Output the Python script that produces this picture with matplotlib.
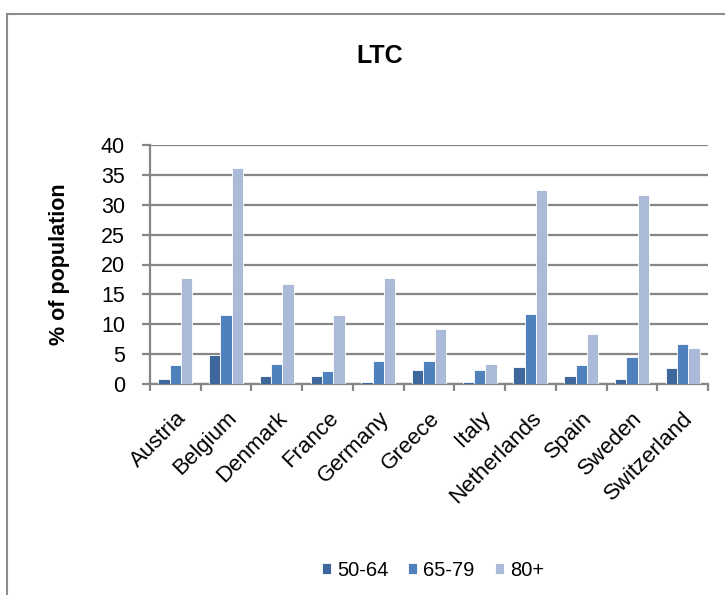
import numpy as np
import matplotlib
matplotlib.use("Agg")
import matplotlib.pyplot as plt
from matplotlib.lines import Line2D
from matplotlib.transforms import ScaledTranslation

plt.rcParams['font.family'] = ['Liberation Sans', 'DejaVu Sans']

countries = ["Austria", "Belgium", "Denmark", "France", "Germany", "Greece",
             "Italy", "Netherlands", "Spain", "Sweden", "Switzerland"]
age_50_64 = [0.8, 4.9, 1.3, 1.3, 0.3, 2.3, 0.3, 2.8, 1.3, 0.8, 2.6]
age_65_79 = [3.1, 11.5, 3.3, 2.1, 3.9, 3.9, 2.3, 11.7, 3.1, 4.6, 6.7]
age_80p = [17.8, 36.2, 16.8, 11.5, 17.8, 9.2, 3.4, 32.5, 8.4, 31.7, 6.1]
series_labels = ["50-64", "65-79", "80+"]
y_ticks = [0, 5, 10, 15, 20, 25, 30, 35, 40]

colors = ["#3E689B", "#4F81BD", "#AABAD8"]
grid_col = "#868686"

fig = plt.figure(figsize=(7.25, 5.95), dpi=100)
ax = fig.add_axes([150 / 725, 1 - 384 / 595, 558 / 725, 239 / 595])

x = np.arange(len(countries))
w = 0.223
for i, (vals, col, lab) in enumerate(zip([age_50_64, age_65_79, age_80p], colors, series_labels)):
    ax.bar(x + (i - 1) * w, vals, width=w, color=col, edgecolor="white",
           linewidth=0.6, label=lab, zorder=3)

ax.set_xlim(-0.5, len(countries) - 0.5)
ax.set_ylim(0, 40)
ax.set_yticks(y_ticks)
ax.yaxis.grid(True, color=grid_col, linewidth=1.6, zorder=0)
ax.set_axisbelow(True)

for s in ["top", "right"]:
    ax.spines[s].set_visible(False)
for s in ["left", "bottom"]:
    ax.spines[s].set_color(grid_col)
    ax.spines[s].set_linewidth(1.6)

# category boundaries carry the tick marks, centres carry the names
ax.set_xticks(np.arange(len(countries) + 1) - 0.5, minor=False)
ax.set_xticklabels([])
ax.set_xticks(x, minor=True)
ax.set_xticklabels(countries, minor=True, rotation=45, ha="right",
                   rotation_mode="anchor", fontsize=16)
shift = ScaledTranslation(4 / 100, 0, fig.dpi_scale_trans)
for lbl in ax.get_xticklabels(minor=True):
    lbl.set_transform(lbl.get_transform() + shift)
ax.tick_params(axis="x", which="major", length=5, width=1.6, color=grid_col, direction="out")
ax.tick_params(axis="x", which="minor", length=0, pad=17)
ax.tick_params(axis="y", length=6, width=1.6, color=grid_col, labelsize=15.5, pad=12)

ax.set_ylabel("% of population", fontsize=15.5, fontweight="bold", labelpad=22)

fig.text(0.524, 1 - 56 / 595, "LTC", ha="center", va="center",
         fontsize=18, fontweight="bold")

fig.legend(loc="center", bbox_to_anchor=(433 / 725, 1 - 570 / 595), ncol=3,
           frameon=False, fontsize=14.5, handlelength=0.45, handleheight=0.45,
           handletextpad=0.3, columnspacing=1.0)

# chart area border (top and left edges)
fig.add_artist(Line2D([7 / 725, 1.0], [1 - 14 / 595, 1 - 14 / 595],
                      transform=fig.transFigure, color="#8C8C8C", linewidth=1.5))
fig.add_artist(Line2D([7 / 725, 7 / 725], [1 - 14 / 595, 0.0],
                      transform=fig.transFigure, color="#8C8C8C", linewidth=1.5))

fig.savefig("out.png", dpi=100)
